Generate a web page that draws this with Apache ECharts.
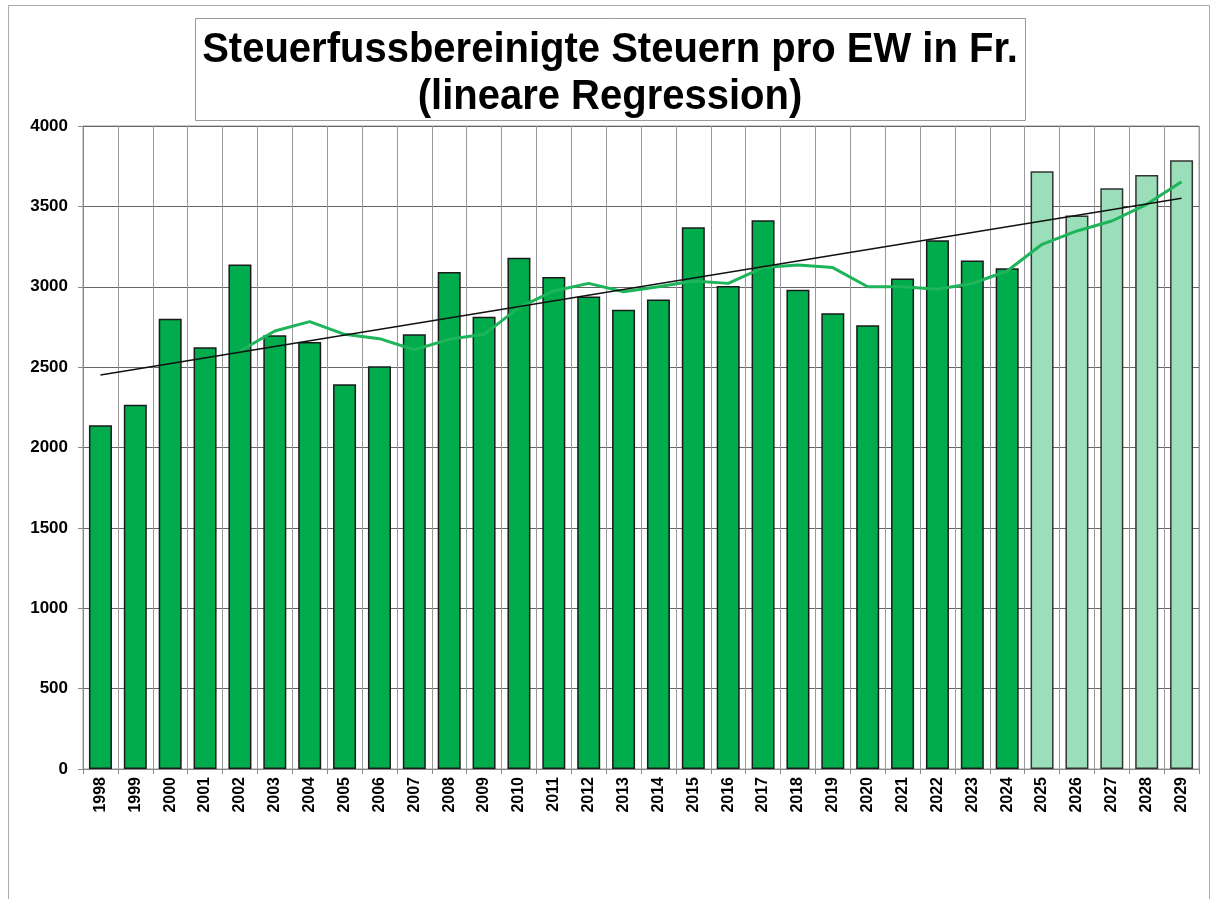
<!DOCTYPE html>
<html>
<head>
<meta charset="utf-8">
<script src="https://cdn.jsdelivr.net/npm/echarts@6/dist/echarts.min.js"></script>
<style>
html,body{margin:0;padding:0;background:#fff;}
#chart{width:1216px;height:899px;}
</style>
</head>
<body>
<div id="chart"></div>
<script>
// ---- data ----
const years = ['1998','1999','2000','2001','2002','2003','2004','2005','2006','2007','2008','2009','2010','2011','2012','2013','2014','2015','2016','2017','2018','2019','2020','2021','2022','2023','2024','2025','2026','2027','2028','2029'];
const actualValues = [2138,2266,2801,2623,3139,2698,2656,2393,2505,2704,3092,2814,3181,3061,2940,2857,2920,3370,3005,3413,2982,2835,2760,3052,3289,3164,3115];
const forecastValues = [3718,3444,3612,3695,3787];
const movingAvg = [null,null,null,null,2600,2725,2783,2704,2677,2608,2673,2704,2870,2974,3021,2969,3000,3036,3021,3119,3135,3119,3000,3000,2984,3020,3098,3264,3347,3409,3513,3653];
const regressionEnds = [2451, 3550]; // value at 1998 and at 2029
const yTicks = [0,500,1000,1500,2000,2500,3000,3500,4000];

const titleLine1 = 'Steuerfussbereinigte Steuern pro EW in Fr.';
const titleLine2 = '(lineare Regression)';

// ---- build ----
const barData = actualValues.map(v => ({value: v}))
  .concat(forecastValues.map(v => ({value: v, itemStyle: {color: '#9ADFB9', borderColor: '#333'}})));
const regressionData = years.map((y, i) => i === 0 ? regressionEnds[0] : (i === years.length - 1 ? regressionEnds[1] : null));

const chart = echarts.init(document.getElementById('chart'), null, {renderer: 'canvas'});
chart.setOption({
  animation: false,
  backgroundColor: '#fff',
  graphic: [
    {type: 'rect', shape: {x: 8.5, y: 5.5, width: 1201, height: 950}, style: {fill: 'none', stroke: '#aaa', lineWidth: 1}, z: -10},
    {type: 'rect', shape: {x: 195.5, y: 18.5, width: 830, height: 102}, style: {fill: '#fff', stroke: '#999', lineWidth: 1}, z: 10},
    {type: 'text', x: 610, y: 50, scaleY: 1.08, originX: 0, originY: 0, z: 11, style: {text: titleLine1, font: 'bold 40px "Liberation Sans", Arial, sans-serif', fill: '#000', align: 'center', verticalAlign: 'middle'}},
    {type: 'text', x: 610, y: 97, scaleY: 1.08, originX: 0, originY: 0, z: 11, style: {text: titleLine2, font: 'bold 40px "Liberation Sans", Arial, sans-serif', fill: '#000', align: 'center', verticalAlign: 'middle'}}
  ],
  grid: {left: 83, right: 17, top: 126, bottom: 130, show: true, borderColor: '#999', borderWidth: 1},
  xAxis: {
    type: 'category',
    data: years,
    boundaryGap: true,
    axisLine: {show: true, lineStyle: {color: '#888'}},
    axisTick: {show: true, length: 5, interval: 0, lineStyle: {color: '#888'}},
    splitLine: {show: true, interval: 0, lineStyle: {color: '#999', width: 1}},
    axisLabel: {interval: 0, rotate: 90, margin: 8, fontFamily: '"Liberation Sans", Arial, sans-serif', fontWeight: 'bold', fontSize: 16, color: '#000'}
  },
  yAxis: {
    type: 'value',
    min: yTicks[0],
    max: yTicks[yTicks.length - 1],
    interval: 500,
    axisLine: {show: true, lineStyle: {color: '#888'}},
    axisTick: {show: true, length: 5, lineStyle: {color: '#888'}},
    splitLine: {show: true, lineStyle: {color: '#666', width: 1}},
    axisLabel: {margin: 15, formatter: v => String(v), fontFamily: '"Liberation Sans", Arial, sans-serif', fontWeight: 'bold', fontSize: 17, color: '#000'}
  },
  series: [
    {
      type: 'bar',
      data: barData,
      barWidth: 23,
      itemStyle: {color: '#00AC4C', borderColor: '#1a1a1a', borderWidth: 1.5},
      z: 2
    },
    {
      type: 'line',
      data: movingAvg,
      symbol: 'none',
      lineStyle: {color: '#1DB45A', width: 3},
      z: 3
    },
    {
      type: 'line',
      data: regressionData,
      connectNulls: true,
      symbol: 'none',
      lineStyle: {color: '#111', width: 1.5},
      z: 4
    }
  ]
});
</script>
</body>
</html>
